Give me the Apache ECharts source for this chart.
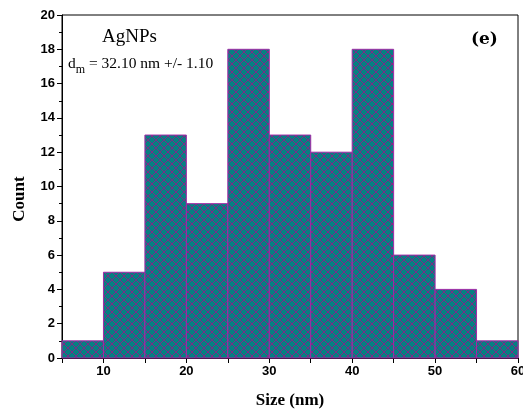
<!DOCTYPE html>
<html>
<head>
<meta charset="utf-8">
<script src="https://cdn.jsdelivr.net/npm/echarts@6/dist/echarts.min.js"></script>
<style>
  html, body { margin: 0; padding: 0; background: #ffffff; }
  #chart { width: 523px; height: 412px; }
</style>
</head>
<body>
<div id="chart"></div>
<script>
// Particle size histogram (bin edges in nm, counts per bin)
const binStarts = [5, 10, 15, 20, 25, 30, 35, 40, 45, 50, 55];
const binWidth = 5;
const counts = [1, 5, 13, 9, 18, 13, 12, 18, 6, 4, 1];
const xTicks = [10, 20, 30, 40, 50, 60];
const yTicks = [0, 2, 4, 6, 8, 10, 12, 14, 16, 18, 20];

// Cross-hatch fill tile: crisp one-pixel diagonals on teal
function hatchTile() {
  const s = 8;
  const c = document.createElement('canvas');
  c.width = s; c.height = s;
  const g = c.getContext('2d');
  g.fillStyle = '#067f82';
  g.fillRect(0, 0, s, s);
  g.fillStyle = '#7e2a88';
  for (let i = 0; i < s; i++) {
    g.fillRect(i, i, 1, 1);
    g.fillRect(s - 1 - i, i, 1, 1);
  }
  return c;
}
const pattern = { image: hatchTile(), repeat: 'repeat' };

const data = binStarts.map((x, i) => [x, x + binWidth, counts[i]]);

const chart = echarts.init(document.getElementById('chart'), null, { renderer: 'canvas' });
chart.setOption({
  backgroundColor: '#ffffff',
  animation: false,
  grid: {
    left: 62, right: 5, top: 15, bottom: 54,
    outerBoundsMode: 'none',
    show: true, borderColor: '#000', borderWidth: 1, backgroundColor: 'transparent'
  },
  xAxis: {
    type: 'value', min: 5, max: 60, interval: 5,
    name: 'Size (nm)', nameLocation: 'middle', nameGap: 34,
    nameTextStyle: { fontFamily: 'Liberation Serif', fontWeight: 'bold', fontSize: 17, color: '#000' },
    axisLine: { show: true, lineStyle: { color: '#000', width: 1 } },
    axisTick: { show: true, length: 5, lineStyle: { color: '#000' } },
    axisLabel: {
      fontFamily: 'Liberation Sans', fontWeight: 'bold', fontSize: 13, color: '#000', margin: 7,
      formatter: v => (xTicks.indexOf(v) >= 0 ? String(v) : '')
    },
    splitLine: { show: false }
  },
  yAxis: {
    type: 'value', min: 0, max: 20, interval: 2,
    axisLine: { show: true, lineStyle: { color: '#000', width: 1 } },
    axisTick: { show: true, length: 5, lineStyle: { color: '#000' } },
    minorTick: { show: true, splitNumber: 2, length: 3, lineStyle: { color: '#000' } },
    axisLabel: {
      fontFamily: 'Liberation Sans', fontWeight: 'bold', fontSize: 13, color: '#000', margin: 7,
      formatter: v => (yTicks.indexOf(v) >= 0 ? String(v) : '')
    },
    splitLine: { show: false }
  },
  series: [{
    type: 'custom',
    data: data,
    encode: { x: [0, 1], y: 2 },
    renderItem: function (params, api) {
      const p0 = api.coord([api.value(0), api.value(2)]);
      const p1 = api.coord([api.value(1), 0]);
      return {
        type: 'rect',
        shape: { x: p0[0], y: p0[1], width: p1[0] - p0[0], height: p1[1] - p0[1] },
        style: { fill: pattern, stroke: '#a02aa6', lineWidth: 1 }
      };
    }
  }],
  graphic: [
    {
      type: 'text', x: 20, y: 199, rotation: Math.PI / 2,
      style: {
        text: 'Count', font: 'bold 17px "Liberation Serif"', fill: '#000',
        align: 'center', verticalAlign: 'middle'
      }
    },
    {
      type: 'text', left: 102, top: 28,
      style: { text: 'AgNPs', font: '19px "Liberation Serif"', fill: '#000' }
    },
    {
      type: 'text', left: 68, top: 56,
      style: {
        text: '{d|d}{sub|m}{d| = 32.10 nm +/- 1.10}',
        rich: {
          d: { fontFamily: 'Liberation Serif', fontSize: 15.5, color: '#000', verticalAlign: 'top' },
          sub: { fontFamily: 'Liberation Serif', fontSize: 12, color: '#000', padding: [8, 0, 0, 0], verticalAlign: 'top' }
        }
      }
    },
    {
      type: 'text', left: 471, top: 31,
      style: { text: '(e)', font: 'bold 17px "DejaVu Serif"', fill: '#000' }
    }
  ]
});
</script>
</body>
</html>
